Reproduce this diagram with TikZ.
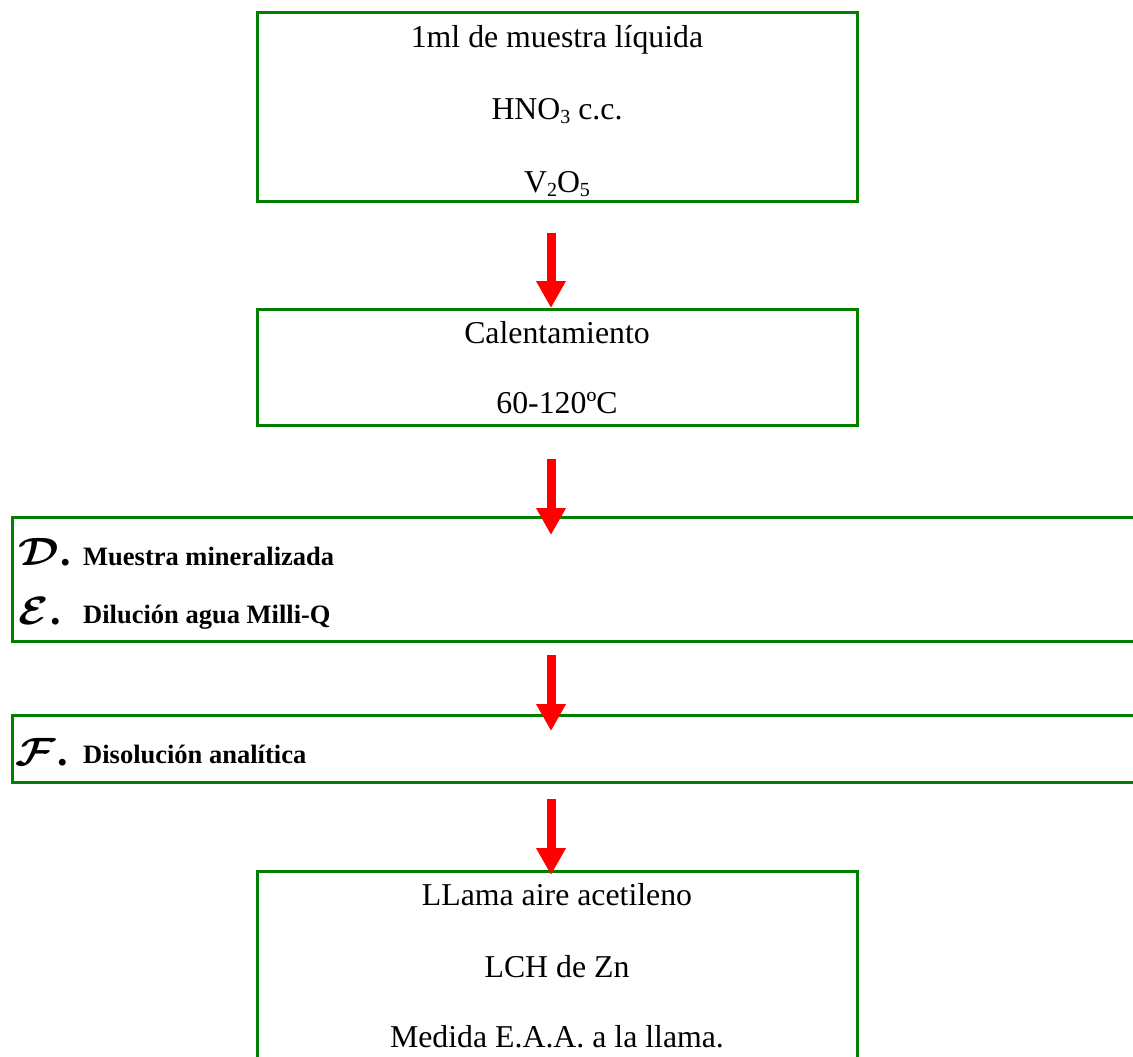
\documentclass[tikz,border=0pt]{standalone}
\usepackage{fontspec}
\setmainfont{Liberation Serif}
\usetikzlibrary{arrows.meta}
\definecolor{boxgreen}{RGB}{0,128,0}
\definecolor{arrred}{RGB}{255,0,0}
\newcommand{\subsc}[1]{\raisebox{-4pt}{\fontsize{20}{20}\selectfont #1}}
\newcommand{\calletter}[1]{\scalebox{4.4}[3.95]{\boldmath$\mathcal{#1}$}\hspace{2pt}{\fontsize{42}{42}\selectfont\bfseries .}}
\begin{document}
\begin{tikzpicture}[x=1pt,y=-1pt,
  box/.style={draw=boxgreen,line width=3pt,rectangle,inner sep=0pt},
  body/.style={anchor=base,inner sep=0pt,font=\fontsize{31.8}{38}\selectfont},
  boldtext/.style={anchor=base west,inner sep=0pt,font=\fontsize{26.5}{32}\selectfont\bfseries},
  letter/.style={anchor=base west,inner sep=0pt},
  redarrow/.style={draw=arrred,line width=9pt,-{Triangle[length=27pt,width=28pt]}}]
\useasboundingbox (0,0) rectangle (1133,1057);
\clip (0,0) rectangle (1133,1057);
% boxes
\node[box,minimum width=600pt,minimum height=188pt] (b1) at (557,107) {};
\node[box,minimum width=600pt,minimum height=116pt] (b2) at (557,367) {};
\node[box,minimum width=1188pt,minimum height=124pt] (b3) at (606,579) {};
\node[box,minimum width=1188pt,minimum height=67pt] (b4) at (606,748.5) {};
\node[box,minimum width=600pt,minimum height=229pt] (b5) at (557,985.5) {};
% box 1 text
\node[body] (t11) at (557,48) {1ml de muestra líquida};
\node[body] (t12) at (557,119) {HNO\subsc{3} c.c.};
\node[body] (t13) at (557,192) {V\subsc{2}O\subsc{5}};
% box 2 text
\node[body] (t21) at (557,343) {Calentamiento};
\node[body] (t22) at (557,413) {60-120ºC};
% box 3 text
\node[letter] (l31) at (18,565) {\calletter{D}};
\node[boldtext] (t31) at (83,565) {Muestra mineralizada};
\node[letter] (l32) at (18,624) {\calletter{E}};
\node[boldtext] (t32) at (83,623) {Dilución agua Milli-Q};
% box 4 text
\node[letter] (l41) at (15,765) {\calletter{F}};
\node[boldtext] (t41) at (83,763) {Disolución analítica};
% box 5 text
\node[body] (t51) at (557,905) {LLama aire acetileno};
\node[body] (t52) at (557,977) {LCH de Zn};
\node[body] (t53) at (557,1047) {Medida E.A.A. a la llama.};
% arrows
\coordinate (a1s) at (551,233);
\coordinate (a1e) at (551,308);
\coordinate (a2s) at (551,459);
\coordinate (a2e) at (551,535);
\coordinate (a3s) at (551,655);
\coordinate (a3e) at (551,731);
\coordinate (a4s) at (551,799);
\coordinate (a4e) at (551,875);
\draw[redarrow] (a1s) -- (a1e);
\draw[redarrow] (a2s) -- (a2e);
\draw[redarrow] (a3s) -- (a3e);
\draw[redarrow] (a4s) -- (a4e);
\end{tikzpicture}
\end{document}
